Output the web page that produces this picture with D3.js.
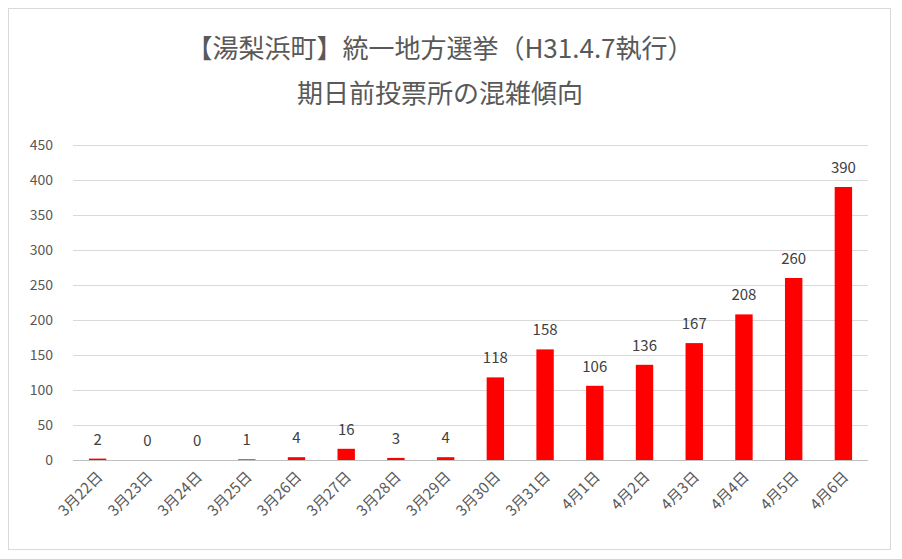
<!DOCTYPE html>
<html><head><meta charset="utf-8">
<script src="https://cdn.jsdelivr.net/npm/d3@7"></script>
<style>body{margin:0;background:#fff}</style></head>
<body><svg id="c" width="902" height="559"></svg>
<script>
const categories=["3月22日","3月23日","3月24日","3月25日","3月26日","3月27日","3月28日","3月29日","3月30日","3月31日","4月1日","4月2日","4月3日","4月4日","4月5日","4月6日"];
const values=[2,0,0,1,4,16,3,4,118,158,106,136,167,208,260,390];
const yTicks=[0,50,100,150,200,250,300,350,400,450];
const titleLines=["【湯梨浜町】統一地方選挙（H31.4.7執行）","期日前投票所の混雑傾向"];
const svg=d3.select("#c");
const font="'Noto Sans CJK JP', sans-serif";
svg.append("rect").attr("x",8.5).attr("y",8.5).attr("width",882).attr("height",541).attr("fill","#fff").attr("stroke","#d9d9d9");
const x=d3.scaleBand().domain(categories).range([73,868]).paddingInner(0.65).paddingOuter(0.32);
const y=d3.scaleLinear().domain([0,450]).range([460,145]);
const g=svg.append("g");
g.selectAll("line.grid").data(yTicks).join("line").attr("x1",73).attr("x2",868).attr("y1",d=>y(d)+0.5).attr("y2",d=>y(d)+0.5).attr("stroke",d=>d===0?"#bfbfbf":"#d9d9d9");
g.selectAll("text.yt").data(yTicks).join("text").attr("x",53).attr("y",d=>y(d)+5).attr("text-anchor","end").attr("font-family",font).attr("font-size",14).attr("fill","#595959").text(d=>d);
g.selectAll("rect.bar").data(values).join("rect").attr("x",(d,i)=>x(categories[i])).attr("width",x.bandwidth()).attr("y",d=>y(d)).attr("height",d=>y(0)-y(d)).attr("fill","#ff0000");
g.selectAll("text.lb").data(values).join("text").attr("x",(d,i)=>x(categories[i])+x.bandwidth()/2).attr("y",d=>y(d)-14).attr("text-anchor","middle").attr("font-family",font).attr("font-size",15).attr("fill","#404040").text(d=>d);
g.selectAll("text.xl").data(categories).join("text").attr("transform",d=>`translate(${x(d)+x.bandwidth()/2+6},${478}) rotate(-45)`).attr("text-anchor","end").attr("font-family",font).attr("font-size",15).attr("fill","#595959").text(d=>d);
svg.selectAll("text.title").data(titleLines).join("text").attr("x",440).attr("y",(d,i)=>58+i*45).attr("text-anchor","middle").attr("font-family",font).attr("font-size",26).attr("fill","#595959").text(d=>d);
</script></body></html>
